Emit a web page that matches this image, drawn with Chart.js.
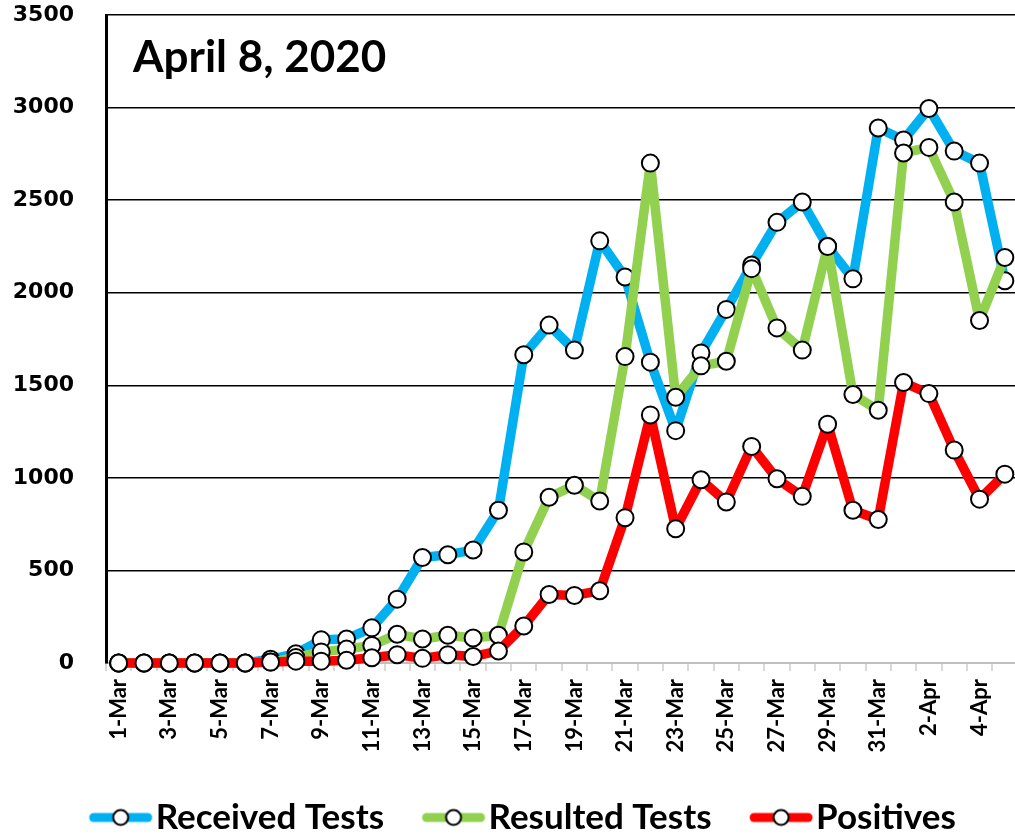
<!DOCTYPE html>
<html>
<head>
<meta charset="utf-8">
<script src="https://cdn.jsdelivr.net/npm/chart.js@4/dist/chart.umd.min.js"></script>
<style>
  html, body { margin: 0; padding: 0; background: #fff; overflow: hidden; }
  #wrap { position: absolute; left: 0; top: 0; width: 1028px; height: 837px; }
</style>
</head>
<body>
<div id="wrap"><canvas id="chart"></canvas></div>
<script>
const days = ['1-Mar','2-Mar','3-Mar','4-Mar','5-Mar','6-Mar','7-Mar','8-Mar','9-Mar','10-Mar',
    '11-Mar','12-Mar','13-Mar','14-Mar','15-Mar','16-Mar','17-Mar','18-Mar','19-Mar','20-Mar',
    '21-Mar','22-Mar','23-Mar','24-Mar','25-Mar','26-Mar','27-Mar','28-Mar','29-Mar','30-Mar',
    '31-Mar','1-Apr','2-Apr','3-Apr','4-Apr','5-Apr'];

const received = [0,0,0,0,0,0,20,50,125,130,190,345,570,585,610,825,1665,1825,1690,2280,
    2085,1625,1255,1675,1910,2150,2380,2490,2250,2075,2890,2825,2995,2765,2700,2065];
const resulted = [0,0,0,0,0,0,5,30,60,75,95,155,130,150,135,150,600,895,960,875,
    1655,2700,1435,1605,1630,2130,1810,1690,2250,1450,1365,2755,2785,2490,1850,2190];
const positives = [0,0,0,0,0,0,5,10,10,15,28,45,25,45,35,65,200,370,365,390,
    785,1340,725,990,870,1170,995,900,1290,825,775,1515,1455,1150,885,1020];

const yTicks = [0, 500, 1000, 1500, 2000, 2500, 3000, 3500];
const chartTitle = 'April 8, 2020';

const colors = { received: '#00B0F0', resulted: '#92D050', positives: '#FF0000' };

const legendFontSize = 35;
const legendBoxW = 84;
const bottomPad = -8;

// legend marker: thick line with a white circle, drawn at the right end of a wide canvas
function legendMarker(color) {
    const h = legendFontSize / 2;
    const w = Math.round(legendBoxW + 2 * h - 4);
    const c = document.createElement('canvas');
    c.width = w; c.height = 24;
    const g = c.getContext('2d');
    const x0 = w - 60, x1 = w - 6;
    g.strokeStyle = color; g.lineWidth = 9; g.lineCap = 'round';
    g.beginPath(); g.moveTo(x0, 12); g.lineTo(x1, 12); g.stroke();
    g.fillStyle = '#fff'; g.strokeStyle = '#000'; g.lineWidth = 2;
    g.beginPath(); g.arc((x0 + x1) / 2, 12, 7.5, 0, Math.PI * 2); g.fill(); g.stroke();
    return c;
}

const titlePlugin = {
    id: 'insideTitle',
    afterDraw(chart) {
        const { ctx, chartArea } = chart;
        ctx.save();
        ctx.font = 'bold 44px Lato';
        ctx.fillStyle = '#000';
        ctx.textBaseline = 'alphabetic';
        ctx.fillText(chartTitle, chartArea.left + 27, chartArea.top + 57);
        ctx.restore();
    }
};

function series(label, data, color, order) {
    return {
        label, data, order,
        borderColor: color, backgroundColor: color,
        borderWidth: 9.5, tension: 0, clip: false,
        borderJoinStyle: 'round', borderCapStyle: 'round',
        pointRadius: 8.5, pointBorderWidth: 2,
        pointBackgroundColor: '#fff', pointBorderColor: '#000'
    };
}

const ds = [
    series('Received Tests', received, colors.received, 3),
    series('Resulted Tests', resulted, colors.resulted, 2),
    series('Positives', positives, colors.positives, 1)
];

new Chart(document.getElementById('chart'), {
    type: 'line',
    data: { labels: days, datasets: ds },
    options: {
        responsive: true, maintainAspectRatio: false, animation: false,
        layout: { padding: { left: -18, top: 15, right: 0, bottom: bottomPad } },
        plugins: {
            tooltip: { enabled: false },
            legend: {
                position: 'bottom',
                labels: {
                    usePointStyle: true, pointStyleWidth: legendBoxW, padding: 3,
                    color: '#000', font: { family: 'Lato', weight: 'bold', size: legendFontSize },
                    generateLabels: () => ds.map((d, i) => ({
                        text: d.label, pointStyle: legendMarker(d.borderColor),
                        fillStyle: d.borderColor, strokeStyle: d.borderColor, lineWidth: 0,
                        hidden: false, datasetIndex: i
                    }))
                }
            }
        },
        scales: {
            x: {
                offset: true,
                afterFit: s => {
                    s.height = s.chart.height - bottomPad - 663 - (s.chart.legend ? s.chart.legend.height : 0);
                    s.paddingLeft = 0; s.paddingRight = 0;
                },
                border: { color: '#bfbfbf', width: 2 },
                grid: { offset: true, drawOnChartArea: false, drawTicks: true, tickLength: 8, color: '#d9d9d9', lineWidth: 2 },
                ticks: {
                    autoSkip: false, minRotation: 90, maxRotation: 90, padding: 8, color: '#000',
                    font: { family: 'Lato', weight: 'bold', size: 22 },
                    callback: (v, i) => (i % 2 ? '' : days[i])
                }
            },
            y: {
                min: 0, max: 3500,
                afterFit: s => { s.width = 124; s.paddingTop = 8; s.paddingBottom = 8; },
                afterBuildTicks: s => { s.ticks = yTicks.map(v => ({ value: v })); },
                border: { color: '#000', width: 3 },
                grid: { color: c => (c.tick && c.tick.value === 0 ? 'rgba(0,0,0,0)' : '#000'), lineWidth: 1.5, drawTicks: false, tickLength: 0 },
                ticks: {
                    padding: 32, color: '#000', callback: v => String(v),
                    font: { family: 'DejaVu Sans', weight: 'bold', size: 22 }
                }
            }
        }
    },
    plugins: [titlePlugin]
});
</script>
</body>
</html>
